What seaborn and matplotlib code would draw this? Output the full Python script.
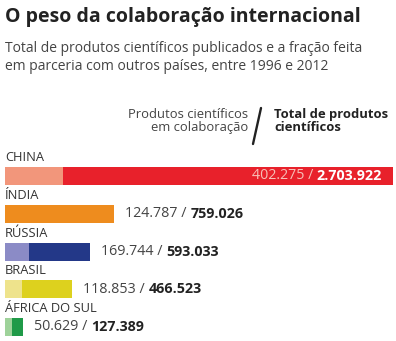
import matplotlib
matplotlib.use("Agg")
import matplotlib.pyplot as plt
import seaborn as sns
import pandas as pd

countries = ["CHINA", "ÍNDIA", "RÚSSIA", "BRASIL", "ÁFRICA DO SUL"]
colab = [402275, 124787, 169744, 118853, 50629]
total = [2703922, 759026, 593033, 466523, 127389]
colab_labels = ["402.275", "124.787", "169.744", "118.853", "50.629"]
total_labels = ["2.703.922", "759.026", "593.033", "466.523", "127.389"]
dark_colors = ["#E8212B", "#EE8C1E", "#233888", "#DDD11E", "#1F9A48"]
light_colors = ["#F2967B", "#EE8C1E", "#8B8BC6", "#EEE38C", "#9ED29A"]

df = pd.DataFrame({"country": countries, "colab": colab, "total": total})

sns.set_theme(style="white")
plt.rcParams["font.family"] = ["Open Sans", "DejaVu Sans"]

W, H = 396, 341
fig = plt.figure(figsize=(W / 100, H / 100), dpi=100)
ax = fig.add_axes([0, 0, 1, 1])

x0 = 5
s = max(total) / 388.0
spacing = 37.75
top_c = 176
bh = 18 / spacing

sns.barplot(data=df, y="country", x="total", hue="country", palette=dark_colors,
            orient="h", width=bh, legend=False, ax=ax, saturation=1, linewidth=0)
sns.barplot(data=df, y="country", x="colab", hue="country", palette=light_colors,
            orient="h", width=bh, legend=False, ax=ax, saturation=1, linewidth=0)

ax.set_xlim(-x0 * s, (W - x0) * s)
ax.set_ylim(4 + (H - 327) / spacing, -top_c / spacing)
ax.axis("off")

for i, c in enumerate(countries):
    ax.text(0, i - 0.49, c, fontsize=9.3, color="#333333", va="center", ha="left")
    if i == 0:
        xe = (382 - x0) * s
        t = ax.annotate(total_labels[i], xy=(xe, i), xycoords="data", fontsize=10.3,
                        fontweight="bold", color="white", va="center", ha="right")
        ax.annotate(colab_labels[i] + " / ", xy=(0, 0.5), xycoords=t,
                    fontsize=10.3, color="#F6C0B8", va="center", ha="right")
    else:
        xs = total[i] + 11 * s
        t = ax.annotate(colab_labels[i] + " / ", xy=(xs, i), xycoords="data",
                        fontsize=10.3, color="#444444", va="center", ha="left")
        ax.annotate(total_labels[i], xy=(1, 0.5), xycoords=t, fontsize=10.3,
                    fontweight="bold", color="#222222", va="center", ha="left")

def fy(py):
    return 1 - py / H

fig.text(5 / W, fy(17), "O peso da colaboração internacional", fontsize=14,
         fontweight="bold", color="#222222", va="center", ha="left")
fig.text(5 / W, fy(48), "Total de produtos científicos publicados e a fração feita",
         fontsize=10, color="#444444", va="center", ha="left")
fig.text(5 / W, fy(67), "em parceria com outros países, entre 1996 e 2012",
         fontsize=10, color="#444444", va="center", ha="left")

fig.text(248 / W, fy(121), "Produtos científicos\nem colaboração", fontsize=9.4,
         color="#444444", va="center", ha="right", linespacing=1.05, multialignment="right")
fig.text(274 / W, fy(121), "Total de produtos\ncientíficos", fontsize=9.4,
         fontweight="bold", color="#222222", va="center", ha="left", linespacing=1.05)
fig.add_artist(plt.Line2D([253 / W, 261 / W], [fy(144), fy(108)], color="#222222", lw=1.7))

fig.savefig("out.png", dpi=100)
